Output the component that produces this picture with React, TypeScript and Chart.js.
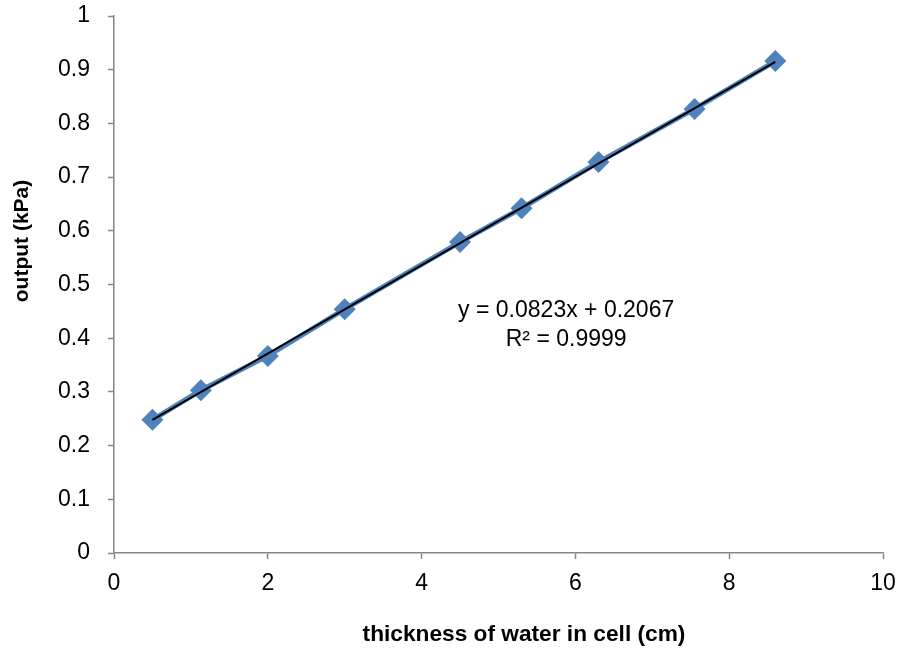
import { useEffect, useRef } from "react";
import { Chart, registerables } from "chart.js";

Chart.register(...registerables);

const thickness = [0.5, 1.13, 2.0, 3.0, 4.5, 5.3, 6.3, 7.55, 8.6];
const outputKPa = [0.248, 0.303, 0.367, 0.454, 0.579, 0.642, 0.728, 0.827, 0.916];
const trendSlope = 0.0823;
const trendIntercept = 0.2067;
const equationLines = ["y = 0.0823x + 0.2067", "R² = 0.9999"];
const equationAnchor = { x: 5.88, y: [0.451, 0.397] };
const xTitle = "thickness of water in cell (cm)";
const yTitle = "output (kPa)";

const FONT = "'Liberation Sans', Arial, sans-serif";
const AXIS_COLOR = "#868686";
const SERIES_COLOR = "#4F81BD";

export default function App() {
  const ref = useRef<HTMLCanvasElement | null>(null);

  useEffect(() => {
    document.body.style.margin = "0";
    const canvas = ref.current!;
    const xMin = Math.min(...thickness);
    const xMax = Math.max(...thickness);
    const trend = [
      { x: xMin, y: trendSlope * xMin + trendIntercept },
      { x: xMax, y: trendSlope * xMax + trendIntercept },
    ];

    const textPlugin = {
      id: "texts",
      afterDraw(chart: any) {
        const { ctx, scales } = chart;
        ctx.save();
        ctx.fillStyle = "#000";
        ctx.textAlign = "center";
        ctx.textBaseline = "middle";
        ctx.font = `23px ${FONT}`;
        const ex = scales.x.getPixelForValue(equationAnchor.x);
        equationLines.forEach((t, i) => {
          ctx.fillText(t, ex, scales.y.getPixelForValue(equationAnchor.y[i]));
        });
        ctx.font = `bold 22.7px ${FONT}`;
        ctx.fillText(xTitle, 524, 635);
        ctx.font = `bold 21px ${FONT}`;
        ctx.translate(22, 241);
        ctx.rotate(-Math.PI / 2);
        ctx.fillText(yTitle, 0, 0);
        ctx.restore();
      },
    };

    const chart = new Chart(canvas, {
      type: "scatter",
      data: {
        datasets: [
          {
            label: "output",
            data: thickness.map((x, i) => ({ x, y: outputKPa[i] })),
            showLine: true,
            borderColor: SERIES_COLOR,
            backgroundColor: SERIES_COLOR,
            borderWidth: 5,
            pointStyle: "rectRot",
            pointRadius: 11,
            pointBorderWidth: 0,
            order: 2,
          },
          {
            label: "trend",
            data: trend,
            showLine: true,
            borderColor: "#000",
            borderWidth: 2,
            pointRadius: 0,
            order: 1,
          },
        ],
      },
      options: {
        animation: false,
        responsive: false,
        layout: { padding: { top: 16, right: 19, left: 0, bottom: 0 } },
        plugins: { legend: { display: false }, tooltip: { enabled: false } },
        scales: {
          x: {
            type: "linear",
            min: 0,
            max: 10,
            ticks: { stepSize: 2, color: "#000", font: { family: FONT, size: 23 }, padding: 11 },
            grid: { display: true, drawOnChartArea: false, drawTicks: true, tickLength: 6, tickColor: AXIS_COLOR, tickWidth: 1.5 },
            border: { color: AXIS_COLOR, width: 1.5 },
            afterFit: (s: any) => {
              s.height = 97;
              s.paddingLeft = 0;
              s.paddingRight = 0;
            },
          },
          y: {
            type: "linear",
            min: 0,
            max: 1,
            ticks: {
              stepSize: 0.1,
              color: "#000",
              font: { family: FONT, size: 23 },
              padding: 18,
              callback: (v: any) => String(Number(Number(v).toFixed(1))),
            },
            grid: { display: true, drawOnChartArea: false, drawTicks: true, tickLength: 6, tickColor: AXIS_COLOR, tickWidth: 1.5 },
            border: { color: AXIS_COLOR, width: 1.5 },
            afterFit: (s: any) => {
              s.width = 114;
              s.paddingTop = 0;
              s.paddingBottom = 0;
            },
          },
        },
      },
      plugins: [textPlugin],
    });
    return () => chart.destroy();
  }, []);

  return (
    <div style={{ width: 902, height: 650, background: "#fff" }}>
      <canvas ref={ref} width={902} height={650} style={{ display: "block" }} />
    </div>
  );
}
